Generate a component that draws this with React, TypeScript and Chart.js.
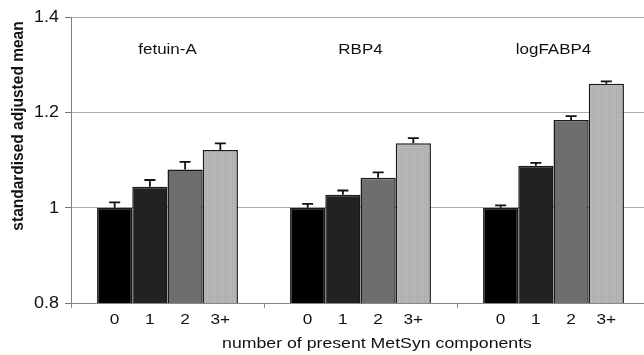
import React, { useEffect, useRef } from "react";
import { Chart, registerables } from "chart.js";

Chart.register(...registerables);

const groups = ["fetuin-A", "RBP4", "logFABP4"];
const componentLabels = ["0", "1", "2", "3+"];
const means0 = [1.0, 1.0, 1.0];
const means1 = [1.044, 1.027, 1.088];
const means2 = [1.08, 1.063, 1.184];
const means3 = [1.121, 1.135, 1.26];
const errs0 = [0.011, 0.008, 0.005];
const errs1 = [0.014, 0.009, 0.006];
const errs2 = [0.016, 0.011, 0.008];
const errs3 = [0.014, 0.011, 0.005];
const yTicks = [0.8, 1.0, 1.2, 1.4];
const yTickLabels = ["0.8", "1", "1.2", "1.4"];
const yTitle = "standardised adjusted mean";
const xTitle = "number of present MetSyn components";

const FONT = "'Liberation Sans', Arial, sans-serif";

function makePattern(): CanvasPattern | string {
  const c = document.createElement("canvas");
  c.width = 2;
  c.height = 2;
  const g = c.getContext("2d");
  if (!g) return "#b2b2b2";
  g.fillStyle = "#b8b8b8";
  g.fillRect(0, 0, 2, 2);
  g.fillStyle = "#a6a6a6";
  g.fillRect(0, 0, 1, 1);
  const p = g.createPattern(c, "repeat");
  return p || "#b2b2b2";
}

function stretchText(ctx: CanvasRenderingContext2D, text: string, x: number, y: number, sx: number) {
  ctx.save();
  ctx.translate(x, y);
  ctx.scale(sx, 1);
  ctx.fillText(text, 0, 0);
  ctx.restore();
}

const annotatePlugin = {
  id: "annotate",
  afterDatasetsDraw(chart: any) {
    const ctx: CanvasRenderingContext2D = chart.ctx;
    const yScale = chart.scales.y;
    const xScale = chart.scales.x;
    const area = chart.chartArea;
    const errs = [errs0, errs1, errs2, errs3];
    ctx.save();
    ctx.strokeStyle = "#111";
    ctx.lineWidth = 1.8;
    chart.data.datasets.forEach((ds: any, di: number) => {
      const meta = chart.getDatasetMeta(di);
      meta.data.forEach((bar: any, i: number) => {
        const v = ds.data[i];
        const top = yScale.getPixelForValue(v + errs[di][i]);
        const base = yScale.getPixelForValue(v);
        ctx.beginPath();
        ctx.moveTo(bar.x, base);
        ctx.lineTo(bar.x, top);
        ctx.moveTo(bar.x - 5.5, top);
        ctx.lineTo(bar.x + 5.5, top);
        ctx.stroke();
      });
    });
    ctx.fillStyle = "#111";
    ctx.textBaseline = "middle";
    ctx.font = `16px ${FONT}`;
    ctx.textAlign = "right";
    yTicks.forEach((v, i) => {
      stretchText(ctx, yTickLabels[i], 59, yScale.getPixelForValue(v) + 0.5, 1.12);
    });
    ctx.font = `15px ${FONT}`;
    ctx.textAlign = "center";
    chart.data.datasets.forEach((ds: any, di: number) => {
      const meta = chart.getDatasetMeta(di);
      meta.data.forEach((bar: any) => {
        stretchText(ctx, componentLabels[di], bar.x, area.bottom + 17, 1.15);
      });
    });
    groups.forEach((g, i) => {
      stretchText(ctx, g, xScale.getPixelForValue(i), 50, 1.13);
    });
    stretchText(ctx, xTitle, 377, 344, 1.18);
    ctx.font = `bold 15.5px ${FONT}`;
    ctx.save();
    ctx.translate(18, 126);
    ctx.rotate(-Math.PI / 2);
    ctx.scale(1, 1.1);
    ctx.fillText(yTitle, 0, 0);
    ctx.restore();
    ctx.restore();
  },
};

export default function App() {
  const ref = useRef<HTMLCanvasElement | null>(null);
  useEffect(() => {
    if (!ref.current) return;
    const pattern = makePattern();
    const colors = ["#000000", "#222222", "#6e6e6e", pattern];
    const series = [means0, means1, means2, means3];
    const chart = new Chart(ref.current, {
      type: "bar",
      data: {
        labels: groups,
        datasets: series.map((d, i) => ({
          label: componentLabels[i],
          data: d,
          backgroundColor: colors[i] as any,
          borderColor: "#1a1a1a",
          borderWidth: 1.5,
          borderSkipped: false,
          categoryPercentage: 0.73,
          barPercentage: 1,
        })),
      },
      options: {
        responsive: false,
        animation: false,
        events: [],
        layout: { padding: { top: 17, left: 0, right: 0, bottom: 0 } },
        plugins: {
          legend: { display: false },
          tooltip: { enabled: false },
          title: { display: false },
        },
        scales: {
          x: {
            type: "category",
            grid: {
              offset: true,
              drawOnChartArea: false,
              drawTicks: true,
              tickLength: 5,
              color: "#888",
            },
            border: { color: "#888", width: 1 },
            ticks: { display: false },
            afterFit: (s: any) => {
              s.height = 52;
            },
          },
          y: {
            min: 0.8,
            max: 1.4,
            afterBuildTicks: (s: any) => {
              s.ticks = yTicks.map((v) => ({ value: v }));
            },
            ticks: { display: false },
            grid: {
              color: "#aaaaaa",
              tickColor: "#777",
              tickLength: 6,
              lineWidth: 1,
            },
            border: { color: "#808080", width: 1 },
            afterFit: (s: any) => {
              s.width = 71;
            },
          },
        },
      },
      plugins: [annotatePlugin],
    });
    return () => chart.destroy();
  }, []);
  return (
    <div
      style={{
        position: "fixed",
        top: 0,
        left: 0,
        width: 644,
        height: 355,
        overflow: "hidden",
        background: "#fff",
      }}
    >
      <canvas ref={ref} width={650} height={355} style={{ width: 650, height: 355, display: "block" }} />
    </div>
  );
}
